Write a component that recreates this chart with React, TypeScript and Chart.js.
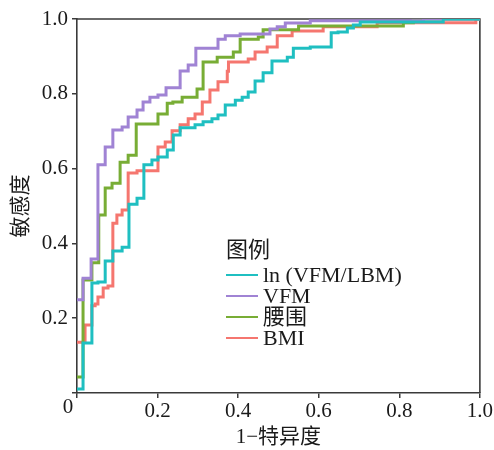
import React, { useEffect, useRef } from "react";
import { Chart, registerables } from "chart.js";

Chart.register(...registerables);

// ---------- data (ROC step vertices: fpr = 1-特异度, tpr = 敏感度) ----------
const seriesNames = ["ln (VFM/LBM)", "VFM", "腰围", "BMI"];

const lnFpr = [0, 0.015, 0.037, 0.052, 0.07, 0.089, 0.112, 0.129, 0.149, 0.166, 0.186, 0.201, 0.224, 0.239, 0.256, 0.293, 0.313, 0.335, 0.35, 0.368, 0.393, 0.41, 0.425, 0.442, 0.462, 0.484, 0.522, 0.537, 0.579, 0.631, 0.648, 0.671, 0.686, 0.703, 0.909, 1];
const lnTpr = [0.011, 0.134, 0.294, 0.297, 0.353, 0.38, 0.39, 0.505, 0.521, 0.61, 0.623, 0.631, 0.65, 0.69, 0.709, 0.717, 0.725, 0.733, 0.743, 0.77, 0.783, 0.791, 0.805, 0.834, 0.856, 0.888, 0.898, 0.922, 0.925, 0.963, 0.965, 0.976, 0.984, 0.992, 1.0, 1.0];

const vfmFpr = [0, 0.015, 0.035, 0.052, 0.07, 0.089, 0.112, 0.127, 0.149, 0.164, 0.181, 0.201, 0.221, 0.256, 0.276, 0.295, 0.35, 0.368, 0.405, 0.479, 0.497, 0.517, 0.579, 0.86, 1];
const vfmTpr = [0.249, 0.307, 0.358, 0.61, 0.658, 0.703, 0.711, 0.738, 0.757, 0.778, 0.791, 0.797, 0.816, 0.861, 0.877, 0.922, 0.946, 0.955, 0.96, 0.973, 0.979, 0.989, 0.995, 1.0, 1.0];

const waistFpr = [0, 0.015, 0.037, 0.054, 0.07, 0.087, 0.107, 0.127, 0.147, 0.201, 0.224, 0.238, 0.261, 0.298, 0.313, 0.348, 0.388, 0.405, 0.45, 0.462, 0.55, 0.81, 0.835, 1];
const waistTpr = [0.043, 0.302, 0.348, 0.476, 0.548, 0.561, 0.617, 0.636, 0.719, 0.746, 0.775, 0.778, 0.791, 0.813, 0.885, 0.898, 0.912, 0.946, 0.952, 0.971, 0.981, 0.99, 1.0, 1.0];

const bmiFpr = [0, 0.02, 0.037, 0.045, 0.052, 0.065, 0.077, 0.089, 0.099, 0.112, 0.127, 0.149, 0.201, 0.219, 0.236, 0.256, 0.276, 0.293, 0.311, 0.33, 0.35, 0.373, 0.376, 0.425, 0.442, 0.472, 0.497, 0.534, 0.611, 0.745, 0.99, 1];
const bmiTpr = [0.136, 0.182, 0.233, 0.238, 0.257, 0.281, 0.286, 0.454, 0.476, 0.489, 0.588, 0.594, 0.658, 0.671, 0.701, 0.717, 0.733, 0.746, 0.778, 0.81, 0.832, 0.86, 0.885, 0.893, 0.912, 0.925, 0.955, 0.968, 0.979, 0.99, 1.0, 1.0];

const tickValues = [0, 0.2, 0.4, 0.6, 0.8, 1.0];
const xTitle = "1−特异度";
const yTitle = "敏感度";
const legendTitle = "图例";

// ---------- styles ----------
const COLORS = ["#1fbfc1", "#a083d4", "#78ad35", "#f5766f"];
const FONT_FAMILY = '"Liberation Serif", "Noto Sans CJK SC", serif';
const TEXT = "#1a1a1a";
const AXIS = "#3a3a3a";

const toPoints = (xs: number[], ys: number[]) => xs.map((x, i) => ({ x, y: ys[i] }));

const framePlugin = {
  id: "frame",
  beforeDatasetsDraw(chart: any) {
    const { ctx, chartArea } = chart;
    ctx.save();
    ctx.strokeStyle = AXIS;
    ctx.lineWidth = 1.6;
    ctx.beginPath();
    ctx.moveTo(chartArea.left, chartArea.top);
    ctx.lineTo(chartArea.right, chartArea.top);
    ctx.lineTo(chartArea.right, chartArea.bottom);
    ctx.stroke();
    ctx.restore();
  },
  afterDraw(chart: any) {
    const { ctx, chartArea } = chart;
    ctx.save();
    // shared origin label
    ctx.fillStyle = TEXT;
    ctx.font = `21px ${FONT_FAMILY}`;
    ctx.textAlign = "center";
    ctx.textBaseline = "middle";
    ctx.fillText("0", chartArea.left - 9, chartArea.bottom + 14);

    // legend
    const lx = chartArea.left + 149;
    const ly = chartArea.top + 232;
    ctx.textAlign = "left";
    ctx.font = `22px ${FONT_FAMILY}`;
    ctx.fillText(legendTitle, lx, ly);
    const rowH = 21;
    seriesNames.forEach((name, i) => {
      const y = ly + 24 + i * rowH;
      ctx.strokeStyle = COLORS[i];
      ctx.lineWidth = 2;
      ctx.beginPath();
      ctx.moveTo(lx, y);
      ctx.lineTo(lx + 32, y);
      ctx.stroke();
      ctx.fillStyle = TEXT;
      ctx.fillText(name, lx + 37, y + 1);
    });
    ctx.restore();
  },
};

export default function App() {
  const canvasRef = useRef<HTMLCanvasElement | null>(null);

  useEffect(() => {
    document.body.style.margin = "0";
    const canvas = canvasRef.current;
    if (!canvas) return;

    const series = [
      toPoints(lnFpr, lnTpr),
      toPoints(vfmFpr, vfmTpr),
      toPoints(waistFpr, waistTpr),
      toPoints(bmiFpr, bmiTpr),
    ];

    const tickFont = { family: FONT_FAMILY, size: 21 };
    const fmt = (v: any) => (Number(v) === 0 ? "" : Number(v).toFixed(1));

    const chart = new Chart(canvas, {
      type: "line",
      data: {
        datasets: series.map((pts, i) => ({
          label: seriesNames[i],
          data: pts,
          borderColor: COLORS[i],
          backgroundColor: COLORS[i],
          borderWidth: 3,
          pointRadius: 0,
          stepped: "before" as any,
          fill: false,
        })),
      },
      options: {
        responsive: false,
        animation: false,
        events: [],
        layout: { padding: { top: 19, right: 14, left: 0, bottom: 0 } },
        plugins: {
          legend: { display: false },
          tooltip: { enabled: false },
        },
        scales: {
          x: {
            type: "linear",
            min: 0,
            max: 1,
            afterBuildTicks: (scale: any) => {
              scale.ticks = tickValues.map((v) => ({ value: v }));
            },
            afterFit: (scale: any) => {
              scale.height = 57;
            },
            ticks: {
              callback: fmt,
              font: tickFont,
              color: TEXT,
              padding: 1,
              maxRotation: 0,
              autoSkip: false,
            },
            grid: {
              display: true,
              drawOnChartArea: false,
              drawTicks: true,
              tickLength: 5,
              color: AXIS,
              lineWidth: 1.5,
            },
            border: { display: true, color: AXIS, width: 1.6 },
            title: {
              display: true,
              text: xTitle,
              font: { family: FONT_FAMILY, size: 21 },
              color: TEXT,
              padding: { top: 0, bottom: 0 },
            },
          },
          y: {
            type: "linear",
            min: 0,
            max: 1,
            afterBuildTicks: (scale: any) => {
              scale.ticks = tickValues.map((v) => ({ value: v }));
            },
            afterFit: (scale: any) => {
              scale.width = 77;
            },
            ticks: {
              callback: fmt,
              font: tickFont,
              color: TEXT,
              padding: 4,
              autoSkip: false,
            },
            grid: {
              display: true,
              drawOnChartArea: false,
              drawTicks: true,
              tickLength: 5,
              color: AXIS,
              lineWidth: 1.5,
            },
            border: { display: true, color: AXIS, width: 1.6 },
            title: {
              display: true,
              text: yTitle,
              font: { family: FONT_FAMILY, size: 21 },
              color: TEXT,
              padding: { top: 9, bottom: 0 },
            },
          },
        },
      },
      plugins: [framePlugin],
    });

    return () => {
      chart.destroy();
    };
  }, []);

  return (
    <div style={{ width: 494, height: 450, position: "relative" }}>
      <canvas ref={canvasRef} width={494} height={450} style={{ display: "block" }} />
    </div>
  );
}
